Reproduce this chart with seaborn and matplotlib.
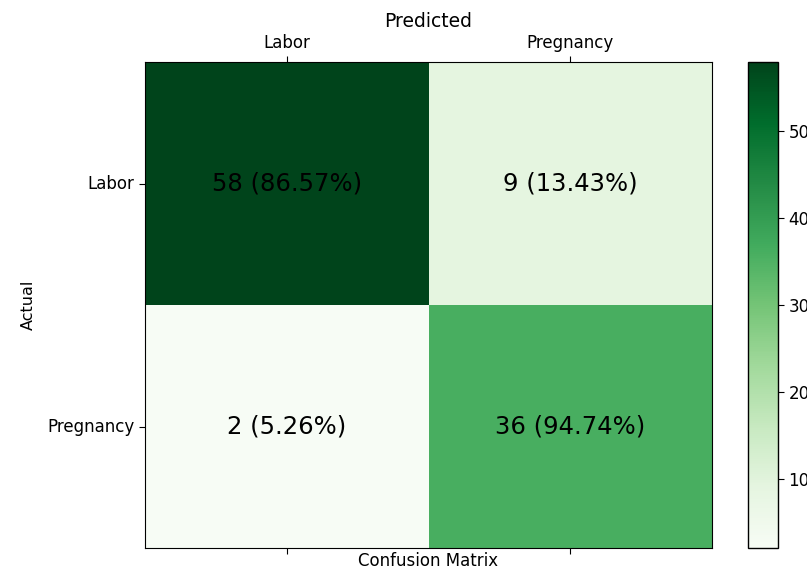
import numpy as np
import seaborn as sns
import matplotlib.pyplot as plt

classes = ['Labor', 'Pregnancy']
counts = np.array([[58, 9],
                   [2, 36]])
row_pct = counts / counts.sum(axis=1, keepdims=True) * 100
labels = np.array([[f"{counts[i, j]} ({row_pct[i, j]:.2f}%)" for j in range(2)]
                   for i in range(2)])

fig = plt.figure(figsize=(8.07, 5.68), dpi=100)
ax = fig.add_axes([0.1797, 0.0352, 0.7026, 0.8556])
cax = fig.add_axes([0.9269, 0.0352, 0.0372, 0.8556])

sns.heatmap(counts, ax=ax, cbar_ax=cax, cmap='Greens', annot=labels, fmt='',
            annot_kws={'fontsize': 17.5, 'color': 'black'},
            xticklabels=classes, yticklabels=classes)

for s in ax.spines.values():
    s.set_visible(True)
    s.set_color('black')
ax.tick_params(axis='x', top=True, bottom=True, labeltop=True, labelbottom=False,
               labelsize=12, length=4)
ax.tick_params(axis='y', labelsize=12, length=4, labelrotation=0)
ax.xaxis.set_label_position('top')
ax.set_xlabel('Predicted', fontsize=13.5, labelpad=5)
ax.set_ylabel('Actual', fontsize=11.5, labelpad=8)
ax.set_title('Confusion Matrix', y=-0.055, fontsize=12)

cb = ax.collections[0].colorbar
cb.outline.set_visible(True)
cb.outline.set_linewidth(1)
cb.outline.set_edgecolor('black')
cb.set_ticks([10, 20, 30, 40, 50])
cb.ax.tick_params(labelsize=12, length=4)

fig.savefig('out.png', dpi=100)
